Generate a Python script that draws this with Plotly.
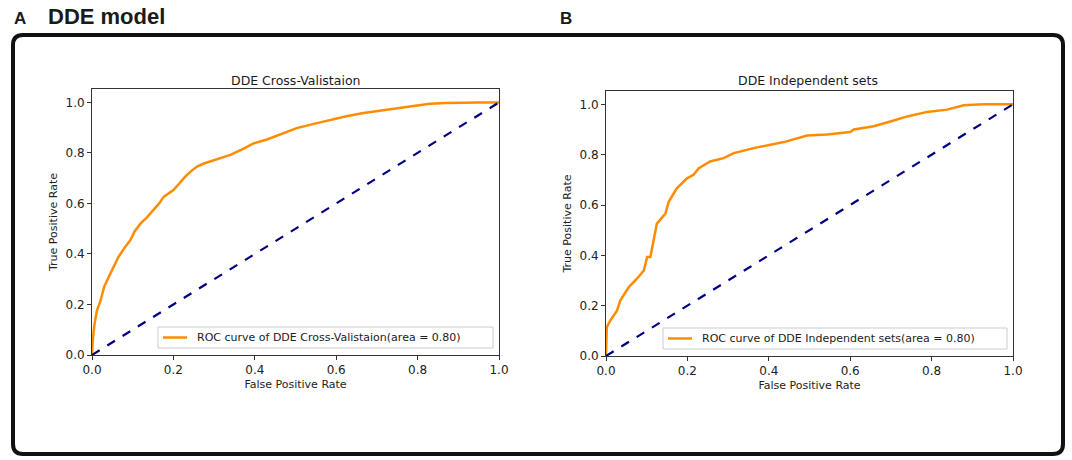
import plotly.graph_objects as go

# ROC curve points
cv_fpr = [0.0, 0.002, 0.006, 0.012, 0.02, 0.03, 0.037, 0.05, 0.065, 0.08, 0.094, 0.105, 0.119, 0.135,
          0.151, 0.165, 0.176, 0.19, 0.2, 0.215, 0.229, 0.245, 0.258, 0.275, 0.29, 0.315, 0.34, 0.37,
          0.397, 0.43, 0.462, 0.503, 0.545, 0.585, 0.625, 0.667, 0.71, 0.749, 0.79, 0.83, 0.87, 0.91,
          0.95, 1.0]
cv_tpr = [0.0, 0.06, 0.12, 0.176, 0.21, 0.27, 0.295, 0.34, 0.388, 0.425, 0.454, 0.49, 0.52, 0.545,
          0.573, 0.6, 0.626, 0.64, 0.653, 0.68, 0.706, 0.73, 0.746, 0.758, 0.766, 0.778, 0.792, 0.815,
          0.838, 0.853, 0.872, 0.898, 0.915, 0.931, 0.945, 0.958, 0.968, 0.977, 0.985, 0.995, 0.998,
          1.0, 1.0, 1.0]

ind_fpr = [0.0, 0.002, 0.011, 0.027, 0.035, 0.056, 0.076, 0.093, 0.101, 0.109, 0.117, 0.125, 0.146,
           0.154, 0.174, 0.199, 0.215, 0.228, 0.256, 0.289, 0.314, 0.363, 0.437, 0.494, 0.543, 0.6,
           0.609, 0.658, 0.707, 0.74, 0.789, 0.838, 0.879, 0.928, 1.0]
ind_tpr = [0.0, 0.115, 0.142, 0.18, 0.22, 0.274, 0.307, 0.34, 0.393, 0.393, 0.46, 0.526, 0.566,
           0.613, 0.666, 0.706, 0.72, 0.746, 0.773, 0.786, 0.806, 0.826, 0.85, 0.876, 0.88, 0.89,
           0.9, 0.913, 0.936, 0.952, 0.97, 0.979, 0.996, 1.0, 1.0]

diag = [0, 1]
ticks = [0.0, 0.2, 0.4, 0.6, 0.8, 1.0]
tick_text = ["0.0", "0.2", "0.4", "0.6", "0.8", "1.0"]

W, H = 1072, 460

fig = go.Figure()

fig.add_trace(go.Scatter(x=cv_fpr, y=cv_tpr, mode="lines", line=dict(color="darkorange", width=2.5),
                         name="ROC curve of DDE Cross-Valistaion(area = 0.80)", xaxis="x", yaxis="y",
                         showlegend=False))
fig.add_trace(go.Scatter(x=diag, y=diag, mode="lines", line=dict(color="navy", width=2.2, dash="dash"),
                         xaxis="x", yaxis="y", showlegend=False))
fig.add_trace(go.Scatter(x=ind_fpr, y=ind_tpr, mode="lines", line=dict(color="darkorange", width=2.5),
                         name="ROC curve of DDE Independent sets(area = 0.80)", xaxis="x2", yaxis="y2",
                         showlegend=False))
fig.add_trace(go.Scatter(x=diag, y=diag, mode="lines", line=dict(color="navy", width=2.2, dash="dash"),
                         xaxis="x2", yaxis="y2", showlegend=False))

def px(x):
    return x / W

def py(y):
    return 1 - y / H

axis_common = dict(showgrid=False, zeroline=False, showline=True, mirror=True, linecolor="#333",
                   linewidth=1, ticks="outside", ticklen=4, tickcolor="#333", automargin=False,
                   tickfont=dict(size=12, color="#222", family="DejaVu Sans"),
                   tickvals=ticks, ticktext=tick_text)
title_font = dict(size=11, color="#222", family="DejaVu Sans")

fig.update_layout(
    width=W, height=H,
    margin=dict(l=0, r=0, t=0, b=0, autoexpand=False),
    paper_bgcolor="white", plot_bgcolor="white",
    xaxis=dict(domain=[px(92), px(499)], range=[0, 1], anchor="y",
               title=dict(text="False Positive Rate", font=title_font, standoff=3), **axis_common),
    yaxis=dict(domain=[py(355), py(89)], range=[0, 1.053], anchor="x",
               title=dict(text="True Positive Rate", font=title_font, standoff=5), **axis_common),
    xaxis2=dict(domain=[px(606), px(1013)], range=[0, 1], anchor="y2",
                title=dict(text="False Positive Rate", font=title_font, standoff=3), **axis_common),
    yaxis2=dict(domain=[py(356), py(91)], range=[0, 1.053], anchor="x2",
                title=dict(text="True Positive Rate", font=title_font, standoff=5), **axis_common),
)

annotations = [
    dict(text="<b>A</b>", x=px(12), y=py(18), xanchor="left", yanchor="middle", font=dict(size=17)),
    dict(text="<b>DDE model</b>", x=px(46), y=py(16), xanchor="left", yanchor="middle", font=dict(size=22)),
    dict(text="<b>B</b>", x=px(558), y=py(18), xanchor="left", yanchor="middle", font=dict(size=17)),
    dict(text="DDE Cross-Valistaion", x=px(295), y=py(80), xanchor="center", yanchor="middle",
         font=dict(size=12.5, family="DejaVu Sans")),
    dict(text="DDE Independent sets", x=px(808), y=py(80), xanchor="center", yanchor="middle",
         font=dict(size=12.5, family="DejaVu Sans")),
]
for a in annotations:
    a.update(xref="paper", yref="paper", showarrow=False)
    a["font"].setdefault("family", "Liberation Sans")
    a["font"].setdefault("color", "#1a1a1a")
fig.update_layout(annotations=annotations)

# legend boxes (drawn by hand to sit inside each axes like matplotlib's)
legends = [
    (158, 493, 327, 348, "ROC curve of DDE Cross-Valistaion(area = 0.80)"),
    (663, 1007, 328, 349, "ROC curve of DDE Independent sets(area = 0.80)"),
]
shapes = []
for x0, x1, y0, y1, label in legends:
    shapes.append(dict(type="rect", xref="paper", yref="paper", x0=px(x0), x1=px(x1), y0=py(y1), y1=py(y0),
                       line=dict(color="#ccc", width=1), fillcolor="rgba(255,255,255,0.85)", layer="above"))
    shapes.append(dict(type="line", xref="paper", yref="paper", x0=px(x0 + 5), x1=px(x0 + 29),
                       y0=py((y0 + y1) / 2), y1=py((y0 + y1) / 2),
                       line=dict(color="darkorange", width=2.5), layer="above"))
    fig.add_annotation(text=label, x=px(x0 + 37), y=py((y0 + y1) / 2), xref="paper", yref="paper",
                       xanchor="left", yanchor="middle", showarrow=False,
                       font=dict(size=11, color="#222", family="DejaVu Sans"))

# outer rounded frame
l, t, r, b, rad = 13, 35, 1063, 454, 10
path = (f"M {px(l + rad)},{py(t)} L {px(r - rad)},{py(t)} Q {px(r)},{py(t)} {px(r)},{py(t + rad)} "
        f"L {px(r)},{py(b - rad)} Q {px(r)},{py(b)} {px(r - rad)},{py(b)} "
        f"L {px(l + rad)},{py(b)} Q {px(l)},{py(b)} {px(l)},{py(b - rad)} "
        f"L {px(l)},{py(t + rad)} Q {px(l)},{py(t)} {px(l + rad)},{py(t)} Z")
shapes.append(dict(type="path", xref="paper", yref="paper", path=path, line=dict(color="#111", width=4)))
fig.update_layout(shapes=shapes)

# page body margin would push the figure out of the window
fig.write_html("out.html", config={"displayModeBar": False},
               post_script="document.body.style.margin='0';document.body.style.overflow='hidden';")
